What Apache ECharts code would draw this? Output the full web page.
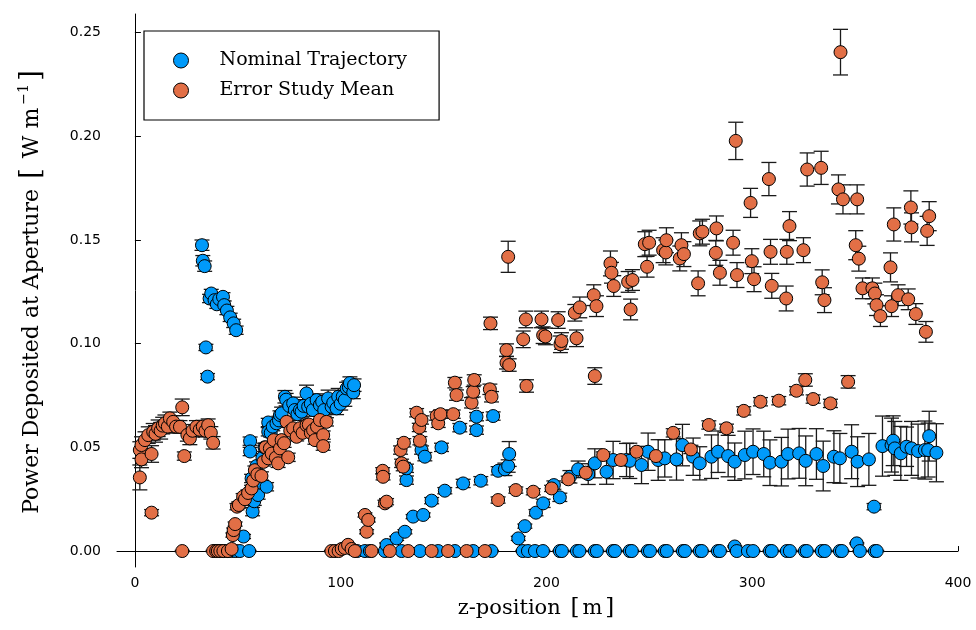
<!DOCTYPE html>
<html>
<head>
<meta charset="utf-8">
<script src="https://cdn.jsdelivr.net/npm/echarts@6/dist/echarts.min.js"></script>
<style>html,body{margin:0;padding:0;background:#fff}#c{width:976px;height:630px}</style>
</head>
<body>
<div id="c"></div>
<script>
// ---- data: [z (m), power (W/m), error] ----
const nominalSeg1 = [
 [32.6,0.1475,0.0025],[33.0,0.140,0.0025],[33.9,0.1374,0.0025],[34.5,0.0982,0.0015],[35.3,0.0841,0.0015],
 [36.3,0.1218,0.002],[37.1,0.1242,0.002],[38.7,0.121,0.002],[39.8,0.119,0.002],[41.0,0.1215,0.002],
 [42.8,0.1226,0.002],[43.4,0.1186,0.002],[44.7,0.116,0.002],[46.3,0.1127,0.002],[48.0,0.1098,0.002],[49.2,0.1065,0.002]
];
const nominalSeg2 = [
 [39,0,0.0003],[41,0,0.0003],[43,0,0.0003],[45,0,0.0003],[47,0,0.0003],[49,0,0.0003],
 [51,0,0.0003],[52.8,0.007,0.001],[55.5,0,0.0003],[56,0.053,0.002],[56,0.048,0.002],[56.7,0.035,0.002],
 [57.2,0.019,0.002],[58,0.024,0.002],[59.1,0.041,0.002],[59.9,0.027,0.002],[61,0.033,0.002],[62,0.045,0.002],
 [63,0.050,0.002],[64,0.031,0.002],[64.8,0.062,0.002],[64.8,0.0575,0.002],[66,0.057,0.002],[67,0.060,0.002],
 [68.8,0.0616,0.002],[70,0.063,0.002],[70.5,0.0656,0.002],[71.3,0.0664,0.003],[72.9,0.0744,0.003],[73.5,0.073,0.003],
 [75,0.070,0.003],[76.9,0.0712,0.003],[77.7,0.068,0.003],[79,0.066,0.003],[80.2,0.068,0.003],[81,0.0672,0.003],
 [82,0.070,0.003],[83.4,0.076,0.004],[84.2,0.0696,0.003],[85.5,0.071,0.003],[86.5,0.068,0.003],[88.3,0.0728,0.003],
 [89.9,0.0704,0.003],[91,0.072,0.003],[92,0.068,0.003],[93.9,0.0736,0.004],[95.6,0.0696,0.003],[96.4,0.0715,0.003],
 [98,0.0688,0.003],[98.8,0.0744,0.004],[100,0.071,0.003],[101,0.0745,0.003],[102,0.0728,0.003],[102.9,0.0784,0.003],
 [104,0.079,0.003],[104.5,0.081,0.003],[106.1,0.0765,0.003],[106.5,0.080,0.003]
];
const nominalSeg3 = [
 [108,0,0.0003],[111.8,0,0.0003],[114.2,0,0.0003],[121.5,0,0.0003],[129.6,0,0.0003],[138.5,0,0.0003],
 [147.4,0,0.0003],[155.5,0,0.0003],[164.4,0,0.0003],[173.3,0,0.0003],
 [122.3,0.0029,0.001],[127.2,0.0061,0.001],[131.2,0.0093,0.001],[135.2,0.0166,0.001],[140.1,0.0174,0.001],
 [144.2,0.0243,0.0015],[150.6,0.0291,0.0015],[159.5,0.0326,0.002],[168.1,0.0339,0.002],[176.5,0.0387,0.002],
 [179.8,0.0394,0.003],[181.4,0.041,0.003],[181.9,0.0468,0.006],
 [132,0.0342,0.002],[132,0.0399,0.002],[139.3,0.0487,0.002],[140.9,0.0455,0.002],[149,0.050,0.002],
 [157.9,0.0595,0.002],[166,0.0583,0.002],[166,0.0648,0.002],[174.1,0.0651,0.002]
];
const nominalSeg4 = [
 [186.3,0.0061,0.001],[189.5,0.012,0.001],[194.9,0.0185,0.0015],[198.4,0.023,0.002],[203.6,0.0318,0.002],
 [206.5,0.0259,0.002],[211.4,0.0358,0.003],[215.4,0.0394,0.004],[220.3,0.0371,0.005],[223.5,0.0423,0.007],
 [229.2,0.0382,0.006],[232.4,0.0439,0.009],[238.9,0.0439,0.008],[240.5,0.0435,0.0085],[246.2,0.0415,0.009],
 [249.4,0.0479,0.009],[254.3,0.0439,0.0098],[257.5,0.0447,0.009],[263.2,0.0442,0.01],[266.1,0.0511,0.01],
 [271.3,0.0455,0.009],[274.5,0.0423,0.008],[280.2,0.0455,0.0105],[283.4,0.0479,0.01],[288.3,0.0458,0.01],
 [291.5,0.0431,0.009],[296.4,0.0463,0.0115],[300.4,0.0479,0.011],[305.6,0.0468,0.011],[308.6,0.0426,0.011],
 [314.2,0.0431,0.0117],[317.4,0.0468,0.012],[322.8,0.0471,0.012],[326,0.0435,0.012],[331.2,0.0468,0.0122],
 [334.5,0.041,0.012],[339.7,0.0455,0.0125],[342.6,0.0447,0.012],[348.3,0.0479,0.013],[351.2,0.0431,0.012],
 [356.7,0.0442,0.0125],[359.2,0.0214,0.0015],[363.3,0.0506,0.0145],[367.7,0.0511,0.013],[368.5,0.0532,0.012],
 [369.3,0.0495,0.013],[372.2,0.0471,0.013],[375,0.0503,0.0095],[377.4,0.0495,0.013],[380.6,0.0482,0.013],
 [383.9,0.0487,0.014],[385.5,0.0487,0.013],[386,0.0554,0.012],[389.5,0.0474,0.014]
];
const nominalZeros4 = [
 [188.5,0],[191,0],[194.4,0],[198.3,0],[206.5,0],[207.5,0],[214.8,0],[216,0],[223.5,0],[224.5,0],
 [232.3,0],[233.3,0],[240.5,0],[241.5,0],[249.3,0],[250.3,0],[257.5,0],[258.5,0],[266.3,0],[267.3,0],
 [274.5,0],[275.5,0],[283.3,0],[284.3,0],[291.5,0.0022],[292.5,0],[297.9,0],[300.4,0],[308.6,0],[309.5,0],
 [316.8,0],[318.3,0],[325.6,0],[326.5,0],[333.8,0],[335.3,0],[342.6,0],[343.6,0],[350.8,0.0037],[352.3,0],
 [359.6,0],[360.5,0]
];
const errorSeg1 = [
 [2.4,0.0355,0.006],[2.4,0.0487,0.004],[3.2,0.0442,0.004],[3.2,0.0511,0.004],[4.9,0.0535,0.004],
 [6.5,0.0559,0.004],[8.1,0.0185,0.0015],[8.1,0.0468,0.004],[8.9,0.0575,0.004],[10,0.0565,0.004],
 [11.3,0.0592,0.004],[12.5,0.058,0.004],[13.5,0.0605,0.004],[14.6,0.0616,0.004],[16,0.060,0.003],
 [17,0.064,0.003],[18.6,0.0623,0.003],[20,0.060,0.003],[21.9,0.0599,0.003],[23,0.0693,0.004],
 [23,0,0.0003],[24,0.0458,0.002],[25.5,0.056,0.003],[26.7,0.0543,0.003],[28,0.058,0.003],[29.9,0.0599,0.003],
 [31.5,0.0585,0.003],[33,0.060,0.003],[34.3,0.058,0.003],[35.6,0.0607,0.003],[36.9,0.057,0.003],[38,0.0522,0.003],
 [38,0,0.0003],[39.5,0,0.0003],[40.3,0,0.0003],[41.5,0,0.0003],[43,0,0.0003],[45.2,0,0.0003],[47,0.001,0.0003]
];
const errorSeg2 = [
 [47.6,0.0077,0.001],[48,0.0101,0.001],[48.7,0.013,0.001],[49.6,0.0214,0.0015],[50.5,0.0222,0.0015],
 [52.6,0.0262,0.0015],[53.5,0.025,0.0015],[55,0.028,0.0015],[56.7,0.0302,0.0015],[57.5,0.034,0.002],
 [58.3,0.039,0.002],[59.5,0.037,0.002],[61.5,0.0362,0.002],[62.5,0.043,0.002],[63.5,0.05,0.002],
 [64.8,0.0447,0.002],[65.6,0.0495,0.002],[66.5,0.047,0.002],[67.5,0.0535,0.002],[68.5,0.045,0.002],
 [69.6,0.0423,0.002],[70.5,0.0495,0.002],[71.3,0.0535,0.002],[72.5,0.052,0.002],[73.7,0.0623,0.002],
 [74.5,0.0452,0.002],[75.5,0.058,0.002],[76.9,0.0592,0.002],[78.6,0.0551,0.002],[80.2,0.0592,0.002],
 [81.5,0.057,0.002],[83.4,0.0607,0.002],[84.5,0.061,0.002],[85.5,0.057,0.002],[86.6,0.0583,0.002],
 [87.5,0.0535,0.002],[88.5,0.060,0.002],[89.9,0.0632,0.002],[91.5,0.0559,0.002],[91.5,0.0506,0.002],[93.1,0.0623,0.002]
];
const errorSeg3 = [
 [95.5,0,0.0003],[97.2,0,0.0003],[99,0,0.0003],[100.5,0.001,0.0003],[102,0.0015,0.0003],[103.6,0.003,0.0005],
 [105.3,0.001,0.0003],[106.9,0,0.0003],[115,0,0.0003],[123.9,0,0.0003],[132.8,0,0.0003],[144.2,0,0.0003],
 [152.2,0,0.0003],[161.2,0,0.0003],[170.1,0,0.0003],
 [111.8,0.0174,0.001],[112.6,0.0093,0.001],[113.4,0.015,0.001],[120.4,0.0387,0.0015],[120.6,0.0358,0.0015],
 [121.5,0.023,0.0015],[122.3,0.0238,0.0015],[129.1,0.0487,0.002],[129.6,0.0423,0.002],[130.4,0.0407,0.002],
 [130.7,0.0522,0.002],[136.9,0.0667,0.002],[138.2,0.0596,0.002],[138.5,0.0532,0.002],[139.3,0.0632,0.002],
 [146.6,0.0651,0.002],[147.4,0.0616,0.002],[148.5,0.066,0.002],[154.7,0.066,0.002],[155.5,0.0812,0.0025],
 [156.3,0.0752,0.0025],[163.6,0.0715,0.0025],[164.4,0.0768,0.0025],[164.9,0.0825,0.0025],[172.5,0.078,0.0025],
 [172.8,0.1098,0.003],[173.3,0.0744,0.0025],[176.5,0.0246,0.0015],[180.6,0.0969,0.003],[180.6,0.0908,0.003],
 [181.9,0.0897,0.003],[181.4,0.1419,0.0075],[185.1,0.0294,0.0015]
];
const errorSeg4 = [
 [188.7,0.1021,0.004],[190,0.1117,0.004],[190.3,0.0796,0.003],[193.6,0.0286,0.0015],[197.6,0.1117,0.004],
 [198.4,0.1041,0.004],[199.5,0.1035,0.004],[202.5,0.0302,0.0015],[205.7,0.1114,0.004],[206.8,0.0997,0.004],
 [207.3,0.1013,0.004],[210.6,0.0346,0.0015],[213.8,0.1149,0.004],[214.6,0.1026,0.004],[216.2,0.1175,0.005],
 [219.1,0.0378,0.0015],[223,0.1234,0.005],[223.5,0.0844,0.004],[224.3,0.1181,0.005],[227.6,0.0463,0.0015],
 [231.1,0.1387,0.006],[231.6,0.1342,0.005],[232.7,0.1278,0.005],[236.2,0.0439,0.0015],[239.7,0.1298,0.005],
 [240.9,0.1165,0.005],[241.8,0.1307,0.005],[243.8,0.0479,0.0015],[247.8,0.148,0.006],[248.9,0.1371,0.005],
 [249.9,0.1487,0.006],[253.2,0.0458,0.0015],[256.7,0.1451,0.006],[258,0.144,0.006],[258.3,0.1499,0.006],
 [261.6,0.057,0.002],[264.8,0.1411,0.006],[265.6,0.1475,0.006],[266.8,0.1432,0.006],[270.2,0.049,0.002],
 [273.7,0.1291,0.006],[274.5,0.1532,0.006],[275.8,0.154,0.006],[278.9,0.0608,0.002],[282.3,0.1438,0.006],
 [282.6,0.1556,0.006],[284.3,0.1342,0.006],[287.5,0.0592,0.002],[290.7,0.1487,0.006],[292,0.1978,0.009],
 [292.6,0.1331,0.006],[295.9,0.0676,0.002],[299.2,0.1679,0.007],[299.8,0.1398,0.006],[300.9,0.1311,0.006],
 [304,0.072,0.002],[308.1,0.1794,0.008],[308.9,0.1443,0.006],[309.5,0.1279,0.006],[312.9,0.0725,0.002],
 [316.5,0.1218,0.006],[316.8,0.1443,0.006],[318.1,0.1567,0.007],[321.5,0.0773,0.002],[324.9,0.1451,0.006],
 [325.8,0.0825,0.003],[326.7,0.184,0.008],[329.6,0.0733,0.002],[333.5,0.1848,0.008],[334,0.1296,0.006],
 [335.1,0.121,0.006],[338,0.0712,0.002],[341.9,0.1744,0.007],[342.9,0.2406,0.011],[344.1,0.1696,0.007],
 [346.6,0.0816,0.003],[350.3,0.1475,0.007],[351,0.1696,0.007],[351.8,0.141,0.006],[353.6,0.1267,0.005],
 [358.4,0.1267,0.005],[359.6,0.1242,0.005],[360.4,0.1186,0.005],[362.3,0.1133,0.005],[367.2,0.1368,0.007],
 [367.7,0.1181,0.005],[368.8,0.1575,0.008],[370.9,0.1234,0.005],[375.8,0.1214,0.005],[377.1,0.1657,0.008],
 [377.4,0.1561,0.007],[379.5,0.1143,0.005],[384.4,0.1057,0.005],[385,0.1544,0.007],[386,0.1615,0.007]
];
const xTicks = [0, 100, 200, 300, 400];
const yTicks = [0, 0.05, 0.10, 0.15, 0.20, 0.25];

const nominal = [].concat(nominalSeg1, nominalSeg2, nominalSeg3, nominalZeros4.map(d => [d[0], d[1], 0.0003]), nominalSeg4);
const errStudy = [].concat(errorSeg1, errorSeg2, errorSeg3, errorSeg4);

const BLUE = '#009AFA', ORANGE = '#E26F46';

function errRender(params, api) {
  const x = api.value(0), y = api.value(1), e = api.value(2);
  const t = api.coord([x, y + e]), b = api.coord([x, y - e]);
  const hw = 7.5;
  const st = {stroke: '#1a1a1a', lineWidth: 1.3, fill: null};
  return {type: 'group', children: [
    {type: 'line', shape: {x1: t[0], y1: t[1], x2: b[0], y2: b[1]}, style: st},
    {type: 'line', shape: {x1: t[0]-hw, y1: t[1], x2: t[0]+hw, y2: t[1]}, style: st},
    {type: 'line', shape: {x1: b[0]-hw, y1: b[1], x2: b[0]+hw, y2: b[1]}, style: st}
  ]};
}

const chart = echarts.init(document.getElementById('c'), null, {renderer: 'canvas'});
const serif = 'DejaVu Serif';
chart.setOption({
  animation: false,
  backgroundColor: '#fff',
  grid: {left: 117, right: 18, top: 14, bottom: 63, containLabel: false},
  xAxis: {
    type: 'value', min: -8.7, max: 400,
    name: 'z-position {b|[}m{b|]}', nameLocation: 'middle', nameGap: 30,
    nameTextStyle: {fontFamily: serif, fontSize: 21, color: '#000',
      rich: {b: {fontFamily: serif, fontSize: 23, color: '#000', padding: [0, 3, 0, 3]}}},
    axisLine: {lineStyle: {color: '#000', width: 1}},
    axisTick: {inside: true, length: 5, customValues: xTicks, lineStyle: {color: '#000'}},
    axisLabel: {customValues: xTicks, fontFamily: 'DejaVu Sans', fontSize: 14, color: '#000', margin: 9},
    splitLine: {show: false}
  },
  yAxis: {
    type: 'value', min: -0.0077, max: 0.259,
    name: '{t|Power Deposited at Aperture }{b|[}{t| W m}{s|−1}{b|]}',
    nameLocation: 'middle', nameGap: 70, nameRotate: 90,
    nameTextStyle: {fontFamily: serif, fontSize: 22, color: '#000',
      rich: {t: {fontFamily: serif, fontSize: 22, color: '#000'},
             b: {fontFamily: serif, fontSize: 28, color: '#000', padding: [0, 3, 0, 3]},
             s: {fontFamily: serif, fontSize: 14, color: '#000', padding: [0, 0, 16, 3]}}},
    axisLine: {show: true, lineStyle: {color: '#000', width: 1}},
    axisTick: {show: true, inside: true, length: 6, customValues: yTicks, lineStyle: {color: '#000'}},
    axisLabel: {customValues: yTicks, fontFamily: 'DejaVu Sans', fontSize: 14, color: '#000', margin: 16,
      formatter: v => v.toFixed(2)},
    splitLine: {show: false}
  },
  legend: {
    left: 144, top: 31, orient: 'vertical',
    backgroundColor: '#fff', borderColor: '#000', borderWidth: 1.2,
    padding: [20, 32, 20, 29], itemGap: 11, itemWidth: 15, itemHeight: 15,
    icon: 'circle',
    textStyle: {fontFamily: serif, fontSize: 19, color: '#000', padding: [0, 0, 0, 26]},
    data: [
      {name: 'Nominal Trajectory', itemStyle: {color: BLUE, borderColor: '#000', borderWidth: 1}},
      {name: 'Error Study Mean', itemStyle: {color: ORANGE, borderColor: '#000', borderWidth: 1}}
    ]
  },
  series: [
    {type: 'custom', name: 'Nominal Trajectory', renderItem: errRender, data: nominal, clip: true,
     encode: {x: 0, y: 1}, z: 2},
    {type: 'scatter', name: 'Nominal Trajectory', data: nominal.map(d => [d[0], d[1]]), symbolSize: 13,
     itemStyle: {color: BLUE, borderColor: '#000', borderWidth: 1, opacity: 1}, z: 2},
    {type: 'custom', name: 'Error Study Mean', renderItem: errRender, data: errStudy, clip: true,
     encode: {x: 0, y: 1}, z: 2},
    {type: 'scatter', name: 'Error Study Mean', data: errStudy.map(d => [d[0], d[1]]), symbolSize: 13,
     itemStyle: {color: ORANGE, borderColor: '#000', borderWidth: 1, opacity: 1}, z: 2}
  ]
});
</script>
</body>
</html>
